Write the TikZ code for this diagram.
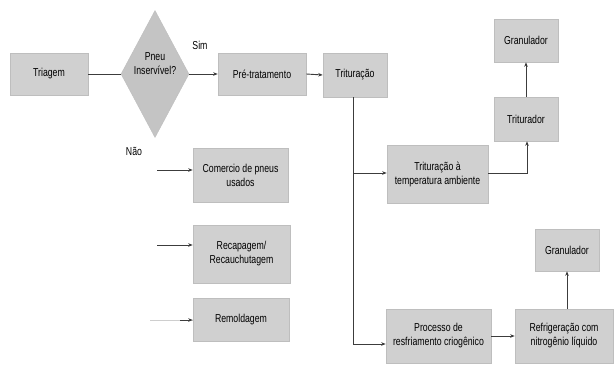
\documentclass[tikz,border=0pt]{standalone}
\usepackage{fontspec}
\setmainfont{Liberation Sans}[FakeStretch=0.76]
\usetikzlibrary{shapes.geometric,arrows.meta}
\definecolor{boxfill}{RGB}{208,208,208}
\definecolor{diafill}{RGB}{196,196,196}
\definecolor{boxline}{RGB}{190,190,190}
\definecolor{linecol}{RGB}{60,60,60}
\begin{document}
\begin{tikzpicture}[x=1pt,y=-1pt,
  box/.style={draw=boxline,fill=boxfill,line width=0.6pt,inner sep=1pt,align=center,font=\fontsize{11.5}{14}\selectfont},
  conn/.style={draw=linecol,line width=0.9pt},
  arr/.style={conn,-{Stealth[length=4.5pt,width=3.5pt]}},
  lbl/.style={font=\fontsize{11.5}{14}\selectfont,inner sep=0pt}]
\useasboundingbox[fill=white] (0,0) rectangle (614,367);
% main row
\node[box,minimum width=78pt,minimum height=42pt] (tri) at (49,74) {Triagem};
\node[diamond,draw=boxline,fill=diafill,minimum width=68pt,minimum height=127pt,inner sep=0pt,aspect=0.535] (dia) at (155,74) {};
\node[lbl,align=center] (diatxt) at (155,64) {Pneu\\Inservível?};
\node[box,minimum width=88pt,minimum height=42pt] (pre) at (262,74) {Pré-tratamento};
\node[box,minimum width=64pt,minimum height=44pt] (trit) at (355,75) {Trituração};
\node[lbl] (sim) at (200,45) {Sim};
\node[lbl] (nao) at (134,151) {Não};
% right upper
\node[box,minimum width=101pt,minimum height=58pt] (amb) at (437.5,174) {Trituração à\\temperatura ambiente};
\node[box,minimum width=64pt,minimum height=44pt] (trtr) at (526,119) {Triturador};
\node[box,minimum width=64pt,minimum height=43pt] (gran1) at (526,40.5) {Granulador};
% right lower
\node[box,minimum width=105pt,minimum height=54pt] (proc) at (438.5,336) {Processo de\\resfriamento criogênico};
\node[box,minimum width=98pt,minimum height=54pt] (refr) at (564,336) {Refrigeração com\\nitrogênio líquido};
\node[box,minimum width=64pt,minimum height=42pt] (gran2) at (567,250) {Granulador};
% left lower
\node[box,minimum width=95pt,minimum height=54pt] (com) at (240.5,175) {Comercio de pneus\\usados};
\node[box,minimum width=97pt,minimum height=58pt] (rec) at (241.5,254) {Recapagem/\\Recauchutagem};
\node[box,minimum width=96pt,minimum height=43pt] (rem) at (241,319.5) {Remoldagem};
% connectors
\draw[conn] (tri.east) -- (dia.west);
\draw[arr] (dia.east) -- (pre.west);
\draw[arr] (pre.east) -- (trit.west);
\coordinate (split) at (353,97);
\coordinate (jA) at (353,173);
\coordinate (jB) at (353,344);
\draw[conn] (trit.south -| split) -- (jB);
\draw[arr] (jA) -- (jA -| amb.west);
\draw[arr] (jB) -- (jB -| proc.west);
\coordinate (bend) at (527,173);
\draw[arr] (amb.east |- bend) -- (bend) -- (bend |- trtr.south);
\draw[arr] (trtr.north) -- (gran1.south);
\draw[arr] (proc.east) -- (refr.west);
\draw[arr] (refr.north -| gran2) -- (gran2.south);
\coordinate (l1) at (157,170);
\coordinate (l2) at (157,245);
\coordinate (l3) at (150,320);
\draw[arr] (l1) -- (l1 -| com.west);
\draw[arr] (l2) -- (l2 -| rec.west);
\draw[conn,draw=linecol!25] (l3) -- (l3 -| rem.west);
\draw[arr,shorten <=30pt] (l3) -- (l3 -| rem.west);
\end{tikzpicture}
\end{document}
